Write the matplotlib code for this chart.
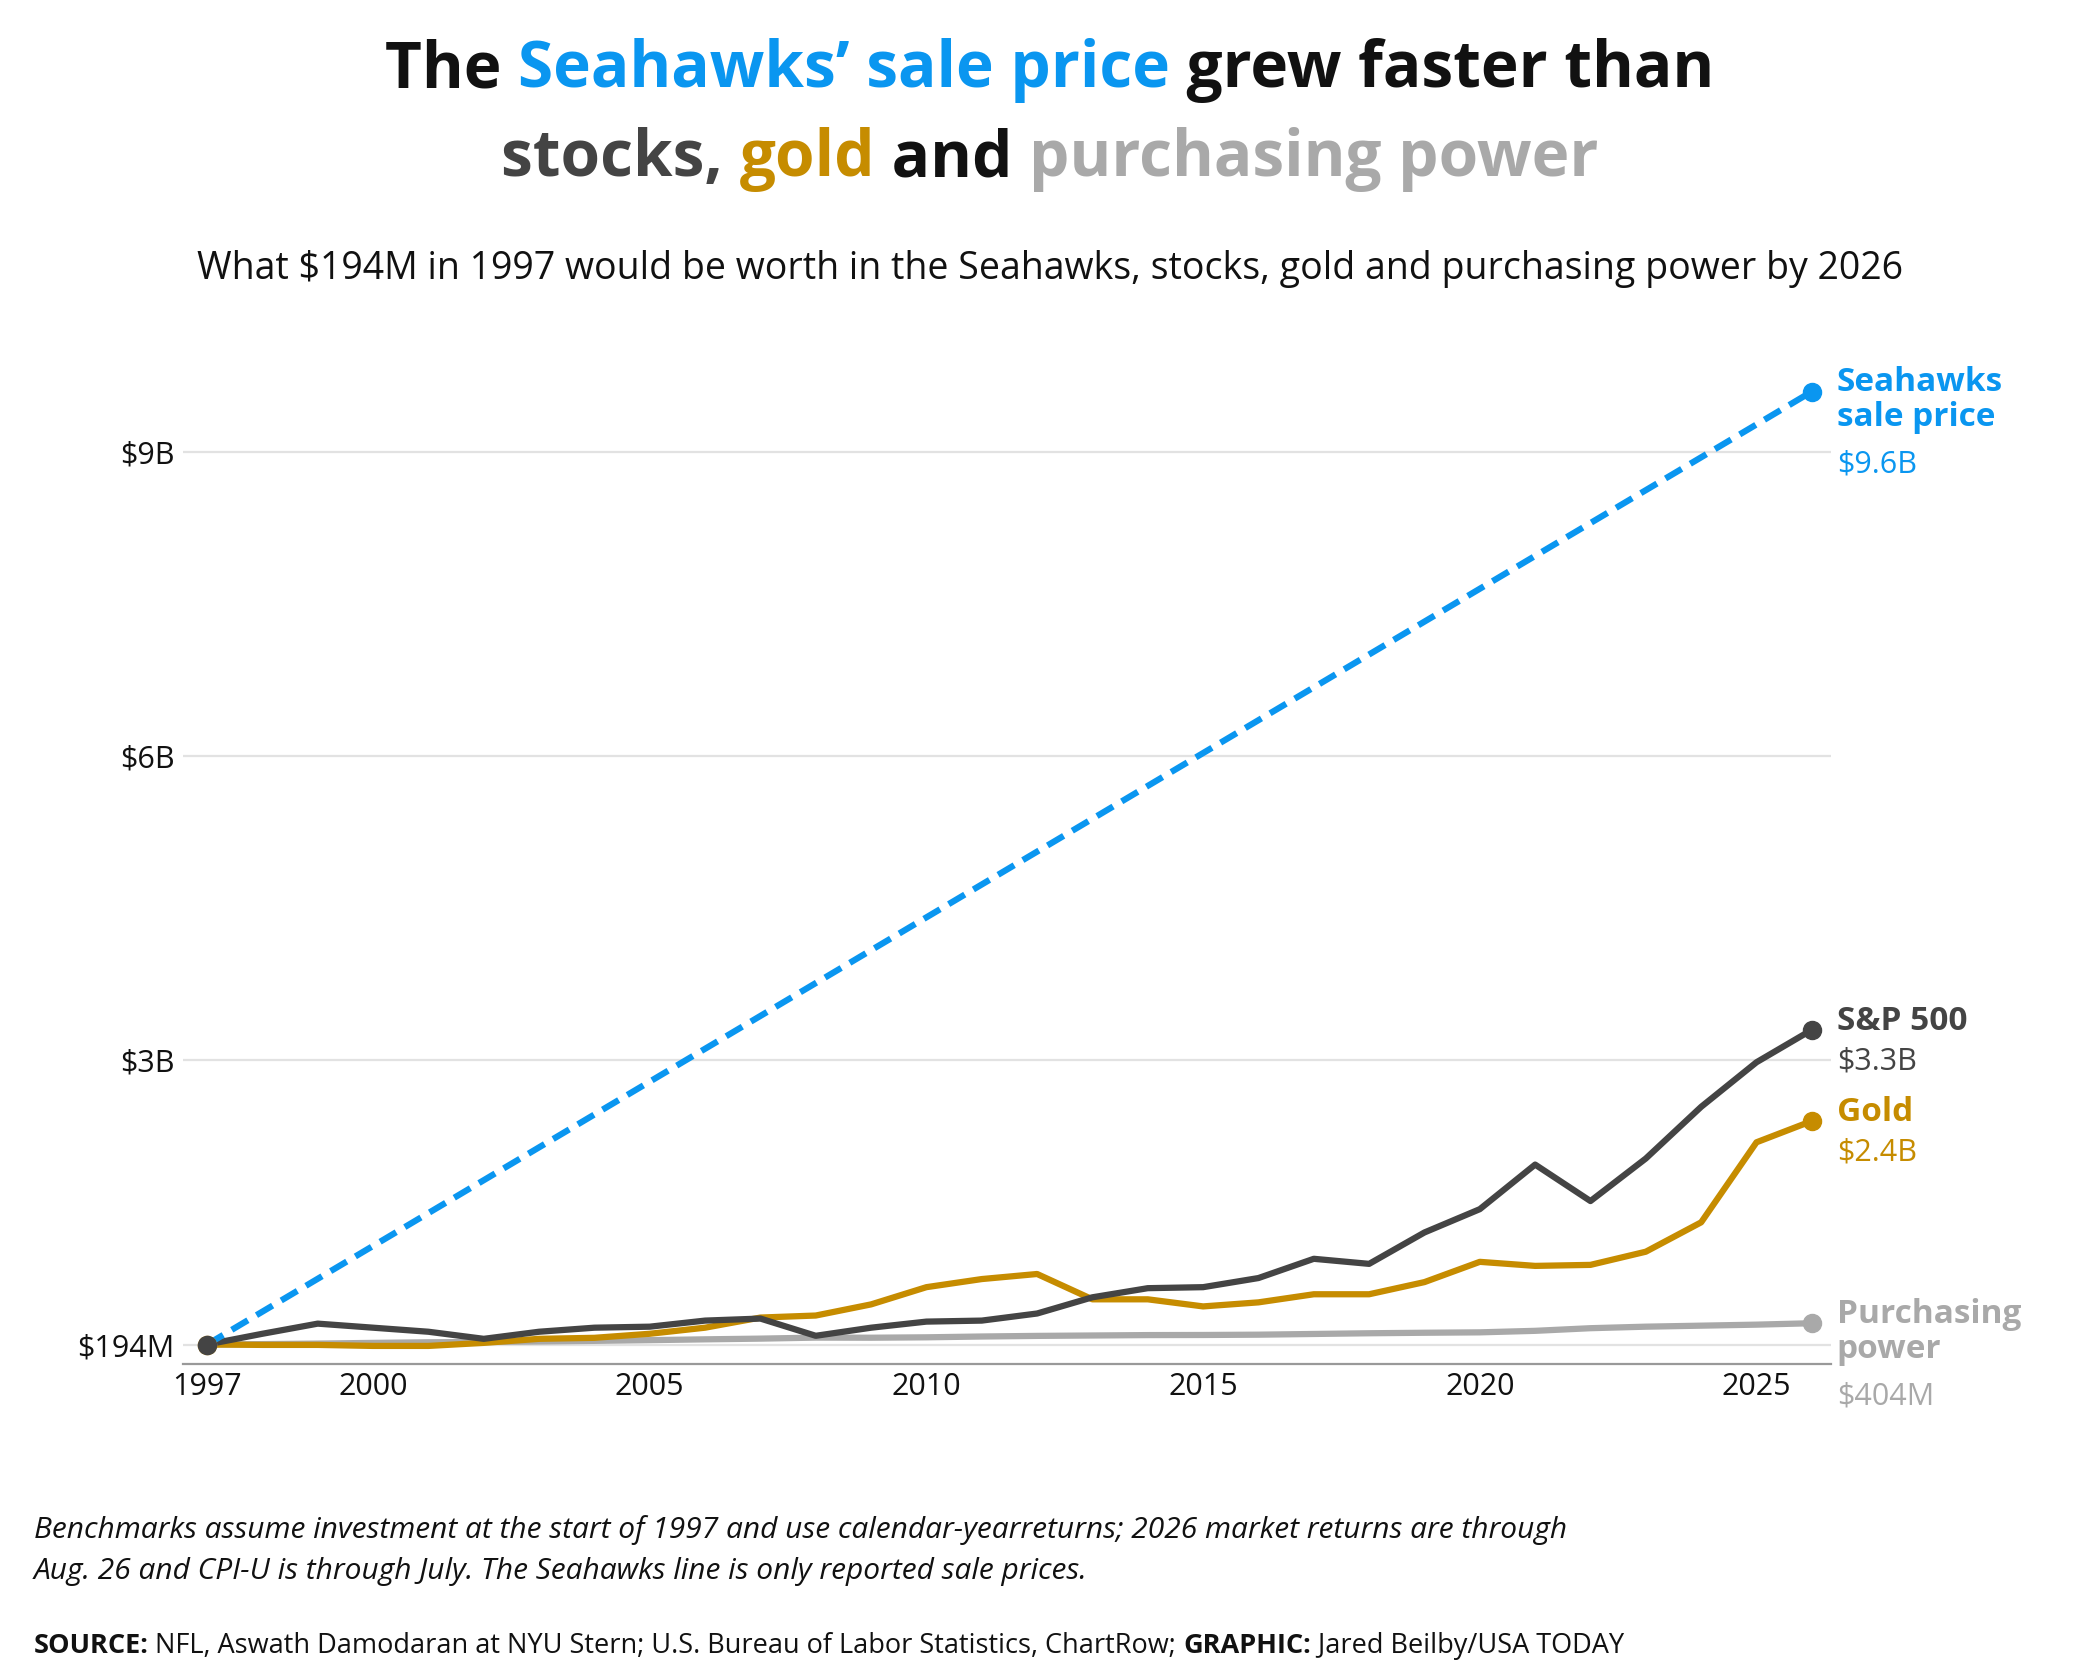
import matplotlib
matplotlib.use("Agg")
import matplotlib.pyplot as plt

plt.rcParams['font.family'] = ['Open Sans', 'DejaVu Sans']

years = list(range(1997, 2027))
sp500 = [0.194, 0.30, 0.40, 0.36, 0.32, 0.25, 0.32, 0.36, 0.37, 0.43, 0.45, 0.28, 0.36,
         0.42, 0.43, 0.50, 0.66, 0.75, 0.76, 0.85, 1.04, 0.99, 1.30, 1.53, 1.97, 1.61,
         2.03, 2.54, 2.98, 3.30]
gold = [0.194, 0.19, 0.19, 0.18, 0.18, 0.21, 0.25, 0.26, 0.30, 0.36, 0.46, 0.48, 0.59,
        0.76, 0.84, 0.89, 0.64, 0.64, 0.57, 0.61, 0.69, 0.69, 0.81, 1.01, 0.97, 0.98,
        1.11, 1.40, 2.19, 2.40]
cpi = [0.194, 0.198, 0.203, 0.21, 0.216, 0.219, 0.224, 0.23, 0.237, 0.245, 0.252, 0.262,
       0.261, 0.265, 0.273, 0.279, 0.283, 0.287, 0.288, 0.291, 0.298, 0.305, 0.31, 0.314,
       0.329, 0.355, 0.37, 0.38, 0.39, 0.404]
hawk_years = [1997, 2026]
hawk_vals = [0.194, 9.6]

yticks = [0.194, 3, 6, 9]
ytick_labels = ["$194M", "$3B", "$6B", "$9B"]
xticks = [1997, 2000, 2005, 2010, 2015, 2020, 2025]

BLUE, DARK, GOLD, GRAY = "#0a96f0", "#444444", "#c68c00", "#a9a9a9"

fig = plt.figure(figsize=(21, 16.8), dpi=100)
ax = fig.add_axes([0.087, 0.188, 0.785, 0.597])

ax.plot(years, cpi, color=GRAY, lw=4.5, solid_capstyle="round")
ax.plot(years, gold, color=GOLD, lw=4.5, solid_capstyle="round")
ax.plot(years, sp500, color=DARK, lw=4.5, solid_capstyle="round")
ax.plot(hawk_years, hawk_vals, color=BLUE, lw=4.5, ls=(0, (3, 1.6)))
for ys, c in [(cpi, GRAY), (gold, GOLD), (sp500, DARK)]:
    ax.plot([years[0], years[-1]], [ys[0], ys[-1]], "o", color=c, ms=13, ls="none")
ax.plot([hawk_years[-1]], [hawk_vals[-1]], "o", color=BLUE, ms=13)

ax.set_xlim(1996.56, 2026.35)
ax.set_ylim(0, 9.9)
ax.set_yticks(yticks)
ax.set_yticklabels(ytick_labels)
ax.set_xticks(xticks)
ax.tick_params(length=0, labelsize=22, colors="#111111", pad=6)
ax.grid(axis="y", color="#e2e2e2", lw=1.6)
ax.set_axisbelow(True)
for s in ["top", "right", "left"]:
    ax.spines[s].set_visible(False)
ax.spines["bottom"].set_color("#999999")
ax.spines["bottom"].set_linewidth(1.6)

# end labels
lx = 2026.45
def endlab(y, name, val, c):
    ax.text(lx, y, name, color=c, fontsize=24, fontweight="bold", va="top",
            linespacing=1.05, clip_on=False)
    n = name.count("\n") + 1
    ax.text(lx, y - 0.41 * n, val, color=c, fontsize=22, va="top", clip_on=False)

endlab(9.85, "Seahawks\nsale price", "$9.6B", BLUE)
endlab(3.55, "S&P 500", "$3.3B", DARK)
endlab(2.65, "Gold", "$2.4B", GOLD)
endlab(0.65, "Purchasing\npower", "$404M", GRAY)

# multi-coloured title
def colored_line(y, parts, size):
    r = fig.canvas.get_renderer()
    texts = []
    for s, c in parts:
        t = fig.text(0, y, s, color=c, fontsize=size, fontweight="bold", va="baseline")
        texts.append(t)
    widths = [t.get_window_extent(r).width / fig.bbox.width for t in texts]
    x = 0.5 - sum(widths) / 2
    for t, w in zip(texts, widths):
        t.set_x(x)
        x += w

colored_line(0.948, [("The ", "#111111"), ("Seahawks\u2019 sale price", BLUE),
                     (" grew faster than", "#111111")], 46)
colored_line(0.895, [("stocks, ", DARK), ("gold", GOLD), (" and ", "#111111"),
                     ("purchasing power", GRAY)], 46)

fig.text(0.5, 0.834, "What $194M in 1997 would be worth in the Seahawks, stocks, gold and "
         "purchasing power by 2026", ha="center", fontsize=27, color="#111111")

fig.text(0.016, 0.098, "Benchmarks assume investment at the start of 1997 and use calendar-year"
         "returns; 2026 market returns are through\nAug. 26 and CPI-U is through July. The "
         "Seahawks line is only reported sale prices.", fontsize=21.5, style="italic",
         color="#111111", linespacing=1.55, va="top")
src = fig.text(0.016, 0.016, "SOURCE:", fontsize=19.5, fontweight="bold", color="#111111")
r = fig.canvas.get_renderer()
x = 0.016 + src.get_window_extent(r).width / fig.bbox.width
t2 = fig.text(x, 0.016, " NFL, Aswath Damodaran at NYU Stern; U.S. Bureau of Labor Statistics, "
              "ChartRow; ", fontsize=19.5, color="#111111")
x += t2.get_window_extent(r).width / fig.bbox.width
t3 = fig.text(x, 0.016, "GRAPHIC:", fontsize=19.5, fontweight="bold", color="#111111")
x += t3.get_window_extent(r).width / fig.bbox.width
fig.text(x, 0.016, " Jared Beilby/USA TODAY", fontsize=19.5, color="#111111")

fig.savefig("out.png", dpi=100, facecolor="white")
